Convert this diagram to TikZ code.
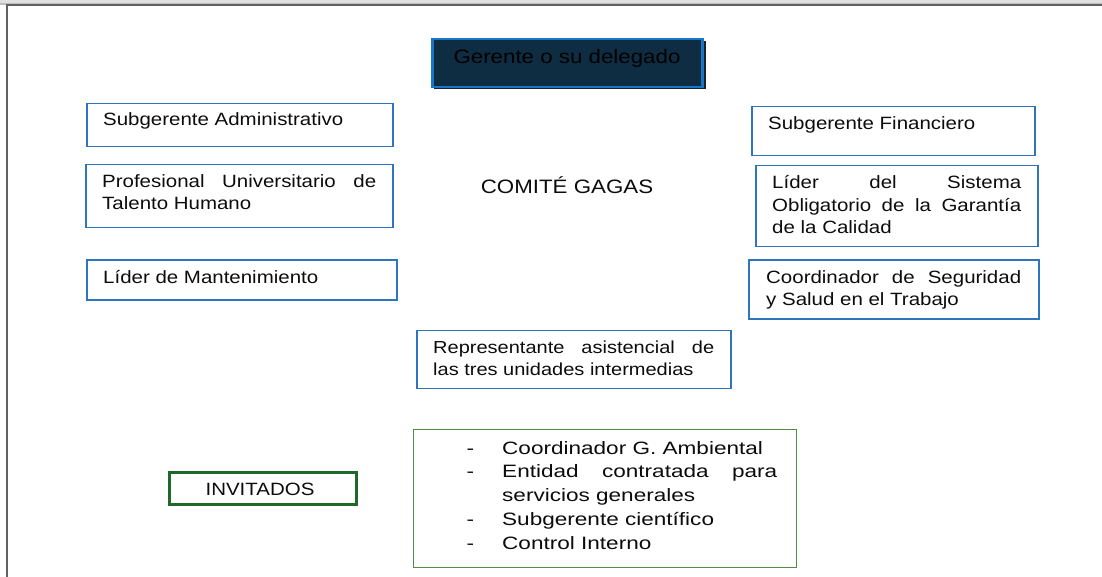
\documentclass[tikz,border=0pt]{standalone}
\usepackage{fontspec}
\setmainfont{Liberation Sans}[FakeStretch=1.15]
\newfontfamily\listfont{Liberation Sans}[FakeStretch=1.26]
\definecolor{boxblue}{RGB}{46,117,190}
\definecolor{gerfill}{RGB}{14,45,66}
\definecolor{gerline}{RGB}{24,118,200}
\definecolor{gershadow}{RGB}{22,36,46}
\definecolor{listgreen}{RGB}{84,140,70}
\definecolor{invgreen}{RGB}{30,105,40}
\definecolor{txtgray}{RGB}{12,12,12}
\tikzset{
  bluebox/.style={draw=boxblue, line width=1.5pt, inner sep=0pt},
  txt/.style={inner sep=0pt, text=txtgray, font=\fontsize{17.8}{22}\selectfont},
  bigtxt/.style={inner sep=0pt, text=txtgray, font=\fontsize{19.4}{23}\selectfont},
}
\newcommand{\jl}[2]{\makebox[#1][s]{#2}}
\begin{document}
\begin{tikzpicture}[x=1pt,y=-1pt]
\useasboundingbox (0,0) rectangle (1102,577);
% page edge
\fill[black!12] (0,0) rectangle (1102,4);
\fill[black!25] (0,3) rectangle (1102,5);
\draw[black!62, line width=2pt] (7,577) -- (7,5.5) -- (1102,5.5);

% Gerente
\fill[gershadow] (434,41) rectangle (706,89);
\node[draw=gerline, fill=gerfill, line width=2.5pt, minimum width=270pt, minimum height=48pt, anchor=north west, inner sep=0pt] (ger) at (431,38) {};
\node[bigtxt, text=black, anchor=base] (gert) at (567,64) {Gerente o su delegado};

% left column
\node[bluebox, minimum width=306pt, minimum height=43pt, anchor=north west] (sa) at (86,103) {};
\node[txt, anchor=base west] (sat) at (103,126) {Subgerente Administrativo};

\node[bluebox, minimum width=307pt, minimum height=63pt, anchor=north west] (pu) at (85,164) {};
\node[txt, anchor=base west] (put) at (102,188) {\parbox[t]{274pt}{\jl{274pt}{Profesional Universitario de}\\Talento Humano}};

\node[bluebox, minimum width=310pt, minimum height=40pt, anchor=north west] (lm) at (86,259) {};
\node[txt, anchor=base west] (lmt) at (103,283) {Líder de Mantenimiento};

% center
\node[bigtxt, anchor=base] (com) at (567,193.5) {COMITÉ GAGAS};

\node[bluebox, minimum width=314pt, minimum height=58pt, anchor=north west] (rep) at (416,329.5) {};
\node[txt, anchor=base west, font=\fontsize{17.4}{22}\selectfont] (rept) at (433,353.5) {\parbox[t]{281pt}{\jl{281pt}{Representante asistencial de}\\las tres unidades intermedias}};

% right column
\node[bluebox, minimum width=283pt, minimum height=49pt, anchor=north west] (sf) at (751,106) {};
\node[txt, anchor=base west] (sft) at (768,130) {Subgerente Financiero};

\node[bluebox, minimum width=282pt, minimum height=81pt, anchor=north west] (ls) at (755,165) {};
\node[txt, anchor=base west, font=\fontsize{17.8}{22.5}\selectfont] (lst) at (772,189) {\parbox[t]{249pt}{\jl{249pt}{Líder del Sistema}\\\jl{249pt}{Obligatorio de la Garantía}\\de la Calidad}};

\node[bluebox, minimum width=290pt, minimum height=59pt, anchor=north west] (cs) at (748,259) {};
\node[txt, anchor=base west] (cst) at (766,283) {\parbox[t]{255pt}{\jl{255pt}{Coordinador de Seguridad}\\y Salud en el Trabajo}};

% invitados
\node[draw=invgreen, line width=3pt, minimum width=187pt, minimum height=32pt, anchor=north west, inner sep=0pt] (inv) at (168,471) {};
\node[txt, anchor=base] (invt) at (260,495) {INVITADOS};

\node[draw=listgreen, line width=1.3pt, minimum width=383pt, minimum height=138pt, anchor=north west, inner sep=0pt] (lst2) at (413,428.5) {};
\node[txt, anchor=base west, font=\listfont\fontsize{17.9}{23.8}\selectfont] (li1) at (466.5,454) {\parbox[t]{313pt}{%
\makebox[35.5pt][l]{-}Coordinador G. Ambiental\\
\makebox[35.5pt][l]{-}\jl{275pt}{Entidad contratada para}\\
\hspace*{35.5pt}servicios generales\\
\makebox[35.5pt][l]{-}Subgerente científico\\
\makebox[35.5pt][l]{-}Control Interno}};
\end{tikzpicture}
\end{document}
